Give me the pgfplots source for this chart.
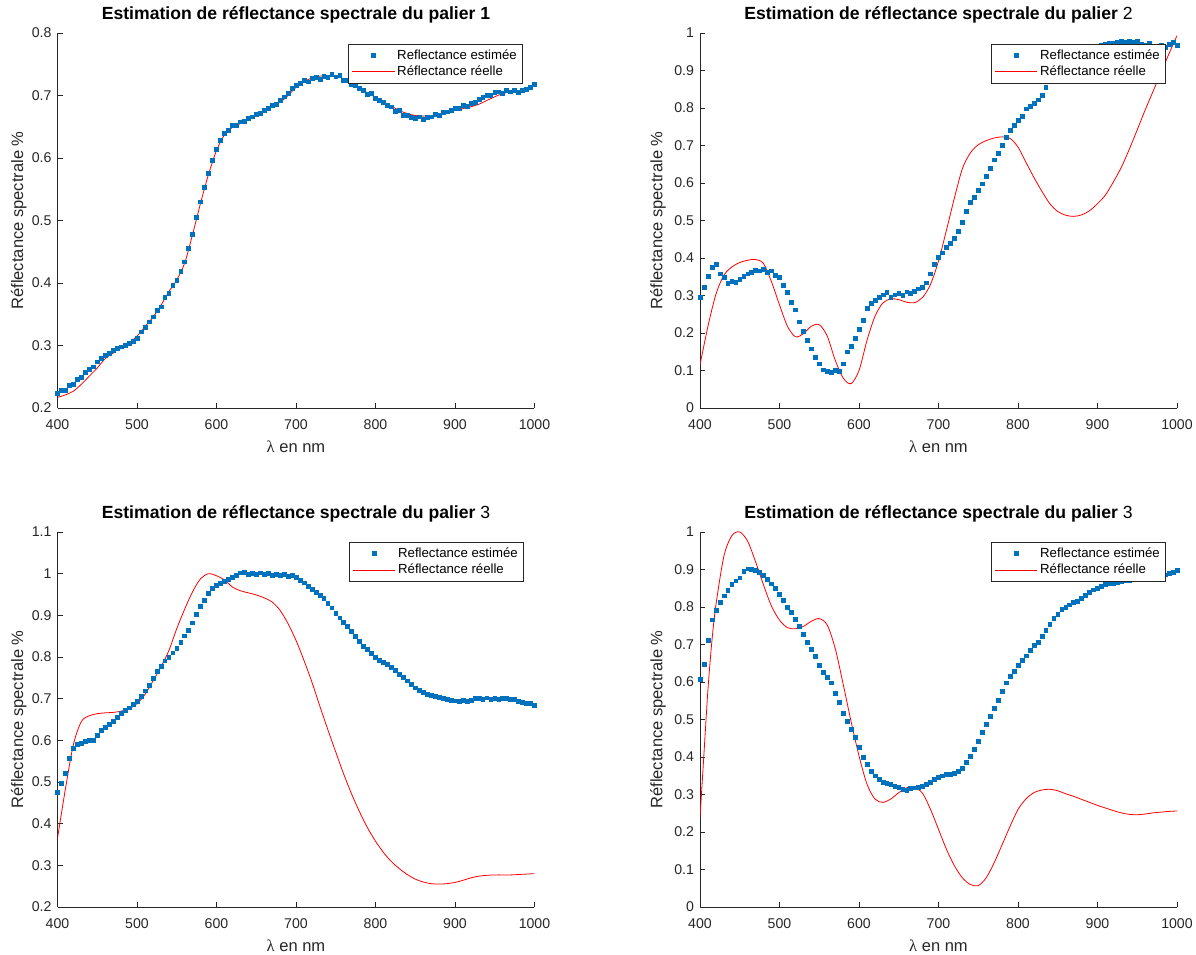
\documentclass[border=0pt]{standalone}
\usepackage{fontspec}
\setmainfont{Liberation Sans}
\newfontfamily\serifgr{Liberation Serif}
\usepackage{pgfplots}
\pgfplotsset{compat=1.18}
\definecolor{axgray}{RGB}{38,38,38}
\definecolor{mblue}{RGB}{0,114,189}
\definecolor{mred}{RGB}{255,0,0}

\pgfplotsset{
  panel/.style={
    scale only axis, width=357.75pt, height=281.25pt, anchor=south west,
    axis x line*=bottom, axis y line*=left,
    axis line style={draw=axgray, line width=0.45pt, -},
    tick align=inside, major tick length=3.75pt,
    tick style={draw=axgray, line width=0.45pt},
    xmin=400, xmax=1000, xtick={400,500,600,700,800,900,1000},
    ticklabel style={font=\fontsize{10.6}{12}\selectfont, text=axgray},
    /pgf/number format/assume math mode=true,
    yticklabel style={xshift=-1pt, /pgf/number format/fixed, /pgf/number format/precision=1},
    xticklabel style={yshift=-5.5pt, /pgf/number format/1000 sep={}},
    xlabel={{\serifgr λ} en nm},
    ylabel={Réflectance spectrale \%},
    label style={font=\fontsize{12.4}{14}\selectfont, text=axgray},
    xlabel style={at={(axis description cs:0.5,0)}, anchor=center, yshift=-29pt},
    title style={at={(0.5,1)}, font=\bfseries\fontsize{13.2}{15}\selectfont, anchor=base, inner sep=0pt, yshift=3.9pt},
    legend cell align=left,
    legend style={font=\fontsize{9.9}{12}\selectfont, draw=axgray, line width=0.4pt, fill=white,
      inner xsep=2.75pt, inner ysep=3pt, nodes={inner sep=1pt}, column sep=1pt, row sep=1.5pt,
      anchor=north east},
    legend image code/.code={\draw[mark repeat=2,mark phase=2] plot coordinates {(0pt,0pt) (15.75pt,0pt) (31.5pt,0pt)};},
  },
  est/.style={only marks, mark=square*, mark size=1.45pt, color=mblue, mark options={draw=none, fill=mblue}},
  ree/.style={no marks, color=mred, line width=0.6pt, smooth},
}

\begin{document}
\begin{tikzpicture}
\path[use as bounding box] (0,0) rectangle (897pt,715.5pt);

% ---------- palier 1 ----------
\begin{axis}[panel, at={(43.125pt,409.5pt)},
  ymin=0.2, ymax=0.8, ytick={0.2,0.3,0.4,0.5,0.6,0.7,0.8},
  title={Estimation de réflectance spectrale du palier 1},
  ylabel style={at={(axis description cs:0,0.5)}, anchor=center, yshift=29pt},
  legend style={at={(0.974,0.971)}}]
\addplot[est] coordinates {
(400,0.224) (405,0.229) (410,0.228) (415,0.236) (420,0.238) (425,0.246) (430,0.249) (435,0.257)
(440,0.262) (445,0.266) (450,0.274) (455,0.279) (460,0.284) (465,0.287) (470,0.293) (475,0.296)
(480,0.298) (485,0.301) (490,0.303) (495,0.307) (500,0.312) (505,0.322) (510,0.329) (515,0.338)
(520,0.346) (525,0.357) (530,0.362) (535,0.377) (540,0.384) (545,0.397) (550,0.405) (555,0.419)
(560,0.434) (565,0.455) (570,0.478) (575,0.505) (580,0.530) (585,0.553) (590,0.576) (595,0.596)
(600,0.614) (605,0.628) (610,0.640) (615,0.645) (620,0.652) (625,0.652) (630,0.658) (635,0.659)
(640,0.664) (645,0.666) (650,0.670) (655,0.671) (660,0.677) (665,0.680) (670,0.685) (675,0.686)
(680,0.692) (685,0.698) (690,0.704) (695,0.712) (700,0.716) (705,0.719) (710,0.724) (715,0.722)
(720,0.727) (725,0.729) (730,0.726) (735,0.731) (740,0.729) (745,0.734) (750,0.730) (755,0.733)
(760,0.725) (765,0.724) (770,0.718) (775,0.717) (780,0.711) (785,0.709) (790,0.702) (795,0.703)
(800,0.696) (805,0.693) (810,0.689) (815,0.684) (820,0.682) (825,0.675) (830,0.676) (835,0.669)
(840,0.668) (845,0.665) (850,0.663) (855,0.666) (860,0.662) (865,0.665) (870,0.666) (875,0.670)
(880,0.669) (885,0.673) (890,0.674) (895,0.676) (900,0.679) (905,0.680) (910,0.684) (915,0.683)
(920,0.688) (925,0.689) (930,0.694) (935,0.697) (940,0.701) (945,0.700) (950,0.705) (955,0.706)
(960,0.704) (965,0.708) (970,0.706) (975,0.709) (980,0.705) (985,0.708) (990,0.710) (995,0.713)
(1000,0.718)};
\addlegendentry{Reflectance estimée}
\addplot[ree] coordinates {
(400,0.217) (410,0.221) (420,0.227) (430,0.238) (440,0.251) (450,0.264) (460,0.279) (470,0.288)
(480,0.298) (490,0.304) (500,0.315) (510,0.330) (520,0.345) (530,0.364) (540,0.386) (550,0.405)
(560,0.432) (570,0.478) (580,0.528) (590,0.574) (600,0.612) (610,0.637) (620,0.649) (630,0.655)
(640,0.662) (650,0.668) (660,0.675) (670,0.683) (680,0.689) (690,0.700) (700,0.713) (710,0.722)
(720,0.728) (730,0.731) (740,0.732) (750,0.731) (760,0.727) (770,0.720) (780,0.712) (790,0.704)
(800,0.697) (810,0.690) (820,0.683) (830,0.676) (840,0.671) (850,0.668) (860,0.667) (870,0.668)
(880,0.670) (890,0.673) (900,0.676) (910,0.679) (920,0.682) (930,0.686) (940,0.692) (950,0.698)
(960,0.703) (970,0.706) (980,0.707) (990,0.711) (1000,0.717)};
\addlegendentry{Réflectance réelle}
\end{axis}

% ---------- palier 2 ----------
\begin{axis}[panel, at={(525pt,409.5pt)},
  ymin=0, ymax=1, ytick={0,0.1,0.2,0.3,0.4,0.5,0.6,0.7,0.8,0.9,1},
  title={Estimation de réflectance spectrale du palier {\mdseries 2}},
  ylabel style={at={(axis description cs:0,0.5)}, anchor=center, yshift=31.5pt},
  legend style={at={(0.975,0.971)}}]
\addplot[est] coordinates {
(400,0.295) (405,0.322) (410,0.352) (415,0.375) (420,0.384) (425,0.358) (430,0.348) (435,0.333)
(440,0.338) (445,0.336) (450,0.343) (455,0.352) (460,0.358) (465,0.362) (470,0.368) (475,0.366)
(480,0.369) (485,0.362) (490,0.366) (495,0.354) (500,0.348) (505,0.328) (510,0.308) (515,0.281)
(520,0.262) (525,0.230) (530,0.205) (535,0.180) (540,0.158) (545,0.135) (550,0.118) (555,0.102)
(560,0.098) (565,0.095) (570,0.101) (575,0.097) (580,0.118) (585,0.150) (590,0.165) (595,0.185)
(600,0.210) (605,0.235) (610,0.265) (615,0.280) (620,0.288) (625,0.296) (630,0.302) (635,0.308)
(640,0.296) (645,0.302) (650,0.305) (655,0.301) (660,0.310) (665,0.306) (670,0.312) (675,0.318)
(680,0.322) (685,0.334) (690,0.358) (695,0.384) (700,0.402) (705,0.414) (710,0.428) (715,0.440)
(720,0.452) (725,0.472) (730,0.496) (735,0.525) (740,0.548) (745,0.562) (750,0.580) (755,0.598)
(760,0.618) (765,0.640) (770,0.662) (775,0.680) (780,0.700) (785,0.722) (790,0.740) (795,0.755)
(800,0.768) (805,0.779) (810,0.798) (815,0.804) (820,0.812) (825,0.822) (830,0.835) (835,0.855)
(840,0.875) (845,0.890) (850,0.902) (855,0.915) (860,0.925) (865,0.935) (870,0.942) (875,0.948)
(880,0.953) (885,0.957) (890,0.960) (895,0.963) (900,0.966) (905,0.968) (910,0.970) (915,0.972)
(920,0.973) (925,0.975) (930,0.977) (935,0.976) (940,0.978) (945,0.975) (950,0.977) (955,0.971)
(960,0.968) (965,0.972) (970,0.966) (975,0.961) (980,0.968) (985,0.962) (990,0.970) (995,0.975)
(1000,0.968)};
\addlegendentry{Reflectance estimée}
\addplot[ree] coordinates {
(400,0.115) (410,0.218) (420,0.303) (430,0.354) (440,0.376) (450,0.388) (460,0.394) (470,0.396)
(480,0.385) (490,0.336) (500,0.275) (510,0.218) (520,0.190) (530,0.198) (540,0.218) (550,0.222)
(560,0.192) (570,0.128) (580,0.080) (590,0.065) (600,0.100) (610,0.180) (620,0.244) (630,0.280)
(640,0.291) (650,0.289) (660,0.282) (670,0.281) (680,0.295) (690,0.330) (700,0.392) (710,0.474)
(720,0.560) (730,0.638) (740,0.680) (750,0.702) (760,0.713) (770,0.720) (780,0.723) (790,0.719)
(800,0.696) (810,0.655) (820,0.615) (830,0.578) (840,0.545) (850,0.524) (860,0.514) (870,0.511)
(880,0.515) (890,0.526) (900,0.545) (910,0.568) (920,0.603) (930,0.642) (940,0.690) (950,0.742)
(960,0.795) (970,0.845) (980,0.895) (990,0.945) (1000,0.993)};
\addlegendentry{Réflectance réelle}
\end{axis}

% ---------- palier 3 (gauche) ----------
\begin{axis}[panel, at={(43.125pt,35.25pt)},
  ymin=0.2, ymax=1.1, ytick={0.2,0.3,0.4,0.5,0.6,0.7,0.8,0.9,1,1.1},
  title={Estimation de réflectance spectrale du palier {\mdseries 3}},
  ylabel style={at={(axis description cs:0,0.5)}, anchor=center, yshift=29pt},
  legend style={at={(0.976,0.973)}}]
\addplot[est] coordinates {
(400,0.476) (405,0.497) (410,0.522) (415,0.556) (420,0.580) (425,0.590) (430,0.594) (435,0.597)
(440,0.600) (445,0.601) (450,0.612) (455,0.624) (460,0.632) (465,0.638) (470,0.646) (475,0.655)
(480,0.664) (485,0.672) (490,0.678) (495,0.686) (500,0.694) (505,0.706) (510,0.719) (515,0.733)
(520,0.749) (525,0.765) (530,0.778) (535,0.791) (540,0.800) (545,0.810) (550,0.821) (555,0.835)
(560,0.851) (565,0.865) (570,0.882) (575,0.902) (580,0.921) (585,0.936) (590,0.952) (595,0.964)
(600,0.972) (605,0.977) (610,0.982) (615,0.986) (620,0.991) (625,0.996) (630,1.002) (635,1.004)
(640,0.999) (645,1.001) (650,0.998) (655,1.002) (660,0.999) (665,1.001) (670,0.997) (675,0.999)
(680,0.996) (685,0.998) (690,0.994) (695,0.996) (700,0.992) (705,0.985) (710,0.978) (715,0.970)
(720,0.963) (725,0.956) (730,0.948) (735,0.940) (740,0.928) (745,0.918) (750,0.905) (755,0.894)
(760,0.884) (765,0.873) (770,0.861) (775,0.850) (780,0.837) (785,0.826) (790,0.818) (795,0.808)
(800,0.800) (805,0.793) (810,0.787) (815,0.782) (820,0.776) (825,0.768) (830,0.759) (835,0.751)
(840,0.743) (845,0.734) (850,0.726) (855,0.720) (860,0.715) (865,0.710) (870,0.708) (875,0.706)
(880,0.703) (885,0.701) (890,0.698) (895,0.696) (900,0.695) (905,0.694) (910,0.696) (915,0.694)
(920,0.697) (925,0.701) (930,0.700) (935,0.699) (940,0.702) (945,0.698) (950,0.700) (955,0.699)
(960,0.701) (965,0.700) (970,0.698) (975,0.699) (980,0.694) (985,0.691) (990,0.689) (995,0.688)
(1000,0.685)};
\addlegendentry{Reflectance estimée}
\addplot[ree] coordinates {
(400,0.365) (410,0.484) (420,0.590) (430,0.645) (440,0.659) (450,0.664) (460,0.666) (470,0.667)
(480,0.670) (490,0.676) (500,0.688) (510,0.710) (520,0.742) (530,0.776) (540,0.815) (550,0.868)
(560,0.915) (570,0.957) (580,0.988) (590,1.000) (600,0.995) (610,0.985) (620,0.968) (630,0.959)
(640,0.954) (650,0.949) (660,0.942) (670,0.932) (680,0.912) (690,0.880) (700,0.840) (710,0.792)
(720,0.740) (730,0.682) (740,0.626) (750,0.572) (760,0.519) (770,0.471) (780,0.428) (790,0.390)
(800,0.358) (810,0.331) (820,0.309) (830,0.292) (840,0.278) (850,0.267) (860,0.260) (870,0.256)
(880,0.255) (890,0.256) (900,0.259) (910,0.264) (920,0.270) (930,0.274) (940,0.276) (950,0.277)
(960,0.277) (970,0.277) (980,0.278) (990,0.279) (1000,0.280)};
\addlegendentry{Réflectance réelle}
\end{axis}

% ---------- palier 3 (droite) ----------
\begin{axis}[panel, at={(525pt,35.25pt)},
  ymin=0, ymax=1, ytick={0,0.1,0.2,0.3,0.4,0.5,0.6,0.7,0.8,0.9,1},
  title={Estimation de réflectance spectrale du palier {\mdseries 3}},
  ylabel style={at={(axis description cs:0,0.5)}, anchor=center, yshift=31.5pt},
  legend style={at={(0.975,0.973)}}]
\addplot[est] coordinates {
(400,0.608) (405,0.648) (410,0.712) (415,0.766) (420,0.792) (425,0.812) (430,0.830) (435,0.844)
(440,0.860) (445,0.870) (450,0.878) (455,0.895) (460,0.902) (465,0.900) (470,0.898) (475,0.893)
(480,0.884) (485,0.874) (490,0.862) (495,0.850) (500,0.835) (505,0.818) (510,0.800) (515,0.787)
(520,0.768) (525,0.748) (530,0.727) (535,0.706) (540,0.688) (545,0.668) (550,0.645) (555,0.625)
(560,0.612) (565,0.598) (570,0.570) (575,0.545) (580,0.516) (585,0.495) (590,0.475) (595,0.452)
(600,0.425) (605,0.400) (610,0.380) (615,0.363) (620,0.350) (625,0.340) (630,0.333) (635,0.330)
(640,0.327) (645,0.323) (650,0.320) (655,0.315) (660,0.312) (665,0.316) (670,0.318) (675,0.320)
(680,0.322) (685,0.327) (690,0.333) (695,0.340) (700,0.346) (705,0.350) (710,0.353) (715,0.353)
(720,0.356) (725,0.362) (730,0.370) (735,0.385) (740,0.402) (745,0.420) (750,0.442) (755,0.465)
(760,0.488) (765,0.508) (770,0.530) (775,0.552) (780,0.576) (785,0.598) (790,0.615) (795,0.628)
(800,0.645) (805,0.657) (810,0.670) (815,0.685) (820,0.698) (825,0.705) (830,0.722) (835,0.738)
(840,0.755) (845,0.770) (850,0.781) (855,0.793) (860,0.800) (865,0.806) (870,0.812) (875,0.816)
(880,0.824) (885,0.832) (890,0.840) (895,0.846) (900,0.851) (905,0.856) (910,0.860) (915,0.863)
(920,0.864) (925,0.866) (930,0.868) (935,0.870) (940,0.872) (945,0.875) (950,0.877) (955,0.878)
(960,0.880) (965,0.880) (970,0.882) (975,0.883) (980,0.884) (985,0.886) (990,0.889) (995,0.893)
(1000,0.897)};
\addlegendentry{Reflectance estimée}
\addplot[ree] coordinates {
(400,0.237) (405,0.410) (410,0.580) (415,0.710) (420,0.805) (430,0.935) (440,0.990) (450,1.000)
(460,0.975) (470,0.920) (480,0.858) (490,0.802) (500,0.765) (510,0.745) (520,0.742) (530,0.748)
(540,0.762) (550,0.769) (560,0.752) (570,0.690) (580,0.595) (590,0.495) (600,0.403) (610,0.328)
(620,0.288) (630,0.279) (640,0.288) (650,0.305) (660,0.318) (670,0.319) (680,0.303) (690,0.260)
(700,0.207) (710,0.154) (720,0.110) (730,0.078) (740,0.060) (750,0.057) (760,0.078) (770,0.118)
(780,0.166) (790,0.215) (800,0.260) (810,0.288) (820,0.305) (830,0.312) (840,0.314) (850,0.310)
(860,0.302) (870,0.295) (880,0.287) (890,0.279) (900,0.271) (910,0.264) (920,0.257) (930,0.251)
(940,0.247) (950,0.246) (960,0.248) (970,0.251) (980,0.253) (990,0.255) (1000,0.256)};
\addlegendentry{Réflectance réelle}
\end{axis}
\end{tikzpicture}
\end{document}
